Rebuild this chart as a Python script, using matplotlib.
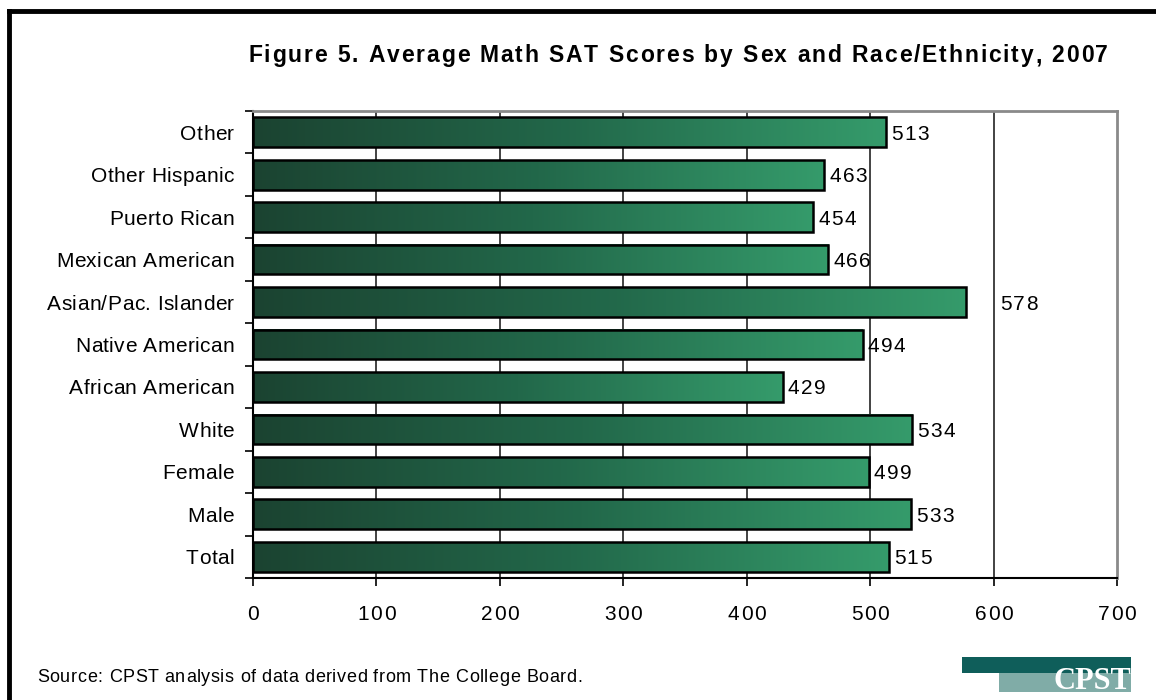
import numpy as np
import matplotlib
matplotlib.use("Agg")
import matplotlib.pyplot as plt
from matplotlib import font_manager, ft2font
from matplotlib.font_manager import FontProperties
from matplotlib.colors import LinearSegmentedColormap
from matplotlib.patches import Rectangle
from matplotlib.lines import Line2D

plt.rcParams['font.family'] = ['Liberation Sans', 'DejaVu Sans']

categories = ["Total", "Male", "Female", "White", "African American",
              "Native American", "Asian/Pac. Islander", "Mexican American",
              "Puerto Rican", "Other Hispanic", "Other"]
scores = [515, 533, 499, 534, 429, 494, 578, 466, 454, 463, 513]
xticks = [0, 100, 200, 300, 400, 500, 600, 700]

title = "Figure 5. Average Math SAT Scores by Sex and Race/Ethnicity, 2007"
source = "Source: CPST analysis of data derived from The College Board."

W, H = 1156, 700
DPI = 100
fig = plt.figure(figsize=(W / DPI, H / DPI), dpi=DPI)
fig.patch.set_facecolor("white")

_fonts = {}


def advances(s, size, weight):
    # per-character advance widths in pixels
    if weight not in _fonts:
        fp = FontProperties(family="Liberation Sans", weight=weight)
        _fonts[weight] = ft2font.FT2Font(font_manager.findfont(fp))
    f = _fonts[weight]
    f.set_size(size, DPI)
    return [f.load_char(ord(c)).linearHoriAdvance / 65536.0 for c in s]


def spaced_text(x, y, s, size, track=0.0, ha="left", weight="normal",
                width=None, color="black"):
    # x, y in pixels from top-left; y is the vertical centre of the capitals
    adv = advances(s, size, weight)
    natural = sum(adv)
    if width is not None and len(s) > 1:
        track = (width - natural) / (len(s) - 1)
    total = natural + track * (len(s) - 1)
    if ha == "right":
        pen = x - total
    elif ha == "center":
        pen = x - total / 2
    else:
        pen = x
    em = size * DPI / 72.0
    base = y + 0.36 * em
    for c, a in zip(s, adv):
        if c != " ":
            fig.text(pen / W, 1 - base / H, c, ha="left", va="baseline",
                     fontsize=size, fontweight=weight, color=color,
                     family="Liberation Sans")
        pen += a + track


ax = fig.add_axes([253 / W, 1 - 578 / H, (1117 - 253) / W, (578 - 111) / H])

green = LinearSegmentedColormap.from_list("grn", ["#1b4331", "#22684a", "#359b6b"])
grad = np.linspace(0, 1, 256).reshape(1, -1)
bh = 0.7

for i, v in enumerate(scores):
    ax.imshow(grad, cmap=green, aspect="auto", interpolation="bilinear",
              extent=[0, v, i - bh / 2, i + bh / 2], zorder=3)
    ax.add_patch(Rectangle((0, i - bh / 2), v, bh, facecolor="none",
                           edgecolor="black", linewidth=1.8, zorder=4))

ax.set_xlim(0, 700)
ax.set_ylim(-0.5, len(categories) - 0.5)

ax.set_xticks(xticks)
ax.set_xticklabels([])
ax.set_yticks(range(len(categories)))
ax.set_yticklabels([])
ax.set_yticks(np.arange(-0.5, len(categories), 1), minor=True)
ax.tick_params(axis="y", which="major", length=0)
ax.tick_params(axis="y", which="minor", length=6, width=1.2, direction="out")
ax.tick_params(axis="x", length=6, width=1.2, direction="out")

for t in xticks[1:-1]:
    ax.axvline(t, color="#222222", linewidth=1.2, zorder=1)

ax.spines["left"].set_linewidth(1.5)
ax.spines["bottom"].set_linewidth(1.5)
for side in ("top", "right"):
    ax.spines[side].set_color("#8a8a8a")
    ax.spines[side].set_linewidth(2)


def to_px(xv, yv):
    dx, dy = ax.transData.transform((xv, yv))
    return dx, H - dy


# category labels
for i, name in enumerate(categories):
    px, py = to_px(0, i)
    spaced_text(234, py, name, 15, track=0.4, ha="right")

# value labels
for i, v in enumerate(scores):
    if v == max(scores):
        # longest bar: label placed past the 600 gridline
        px, py = to_px(605, i)
    else:
        px, py = to_px(v, i)
        px += 5
    spaced_text(px, py, str(v), 15, track=1.5)

# x tick labels
for t in xticks:
    px, py = to_px(t, -0.5)
    spaced_text(px, py + 35, str(t), 15, track=1.5, ha="center")

spaced_text(248, 54, title, 16.5, weight="bold", width=860)
spaced_text(37, 676, source, 13, width=545)

# outer frame: top and left edges only
fig.add_artist(Line2D([9 / W, 1], [1 - 11 / H, 1 - 11 / H], color="black",
                      linewidth=3.5, transform=fig.transFigure))
fig.add_artist(Line2D([9 / W, 9 / W], [0, 1 - 11 / H], color="black",
                      linewidth=3.5, transform=fig.transFigure))

# CPST logo
fig.add_artist(Rectangle((962 / W, 1 - 673 / H), 169 / W, 16 / H,
                         facecolor="#0f5e5a", edgecolor="none",
                         transform=fig.transFigure))
fig.add_artist(Rectangle((999 / W, 1 - 692 / H), 132 / W, 19 / H,
                         facecolor="#80aca7", edgecolor="none",
                         transform=fig.transFigure))
fig.text(1131 / W, 1 - 689 / H, "CPST", ha="right", va="baseline", color="white",
         fontsize=22, fontweight="bold", family=["Liberation Serif", "DejaVu Serif"])

fig.savefig("out.png", dpi=DPI)
